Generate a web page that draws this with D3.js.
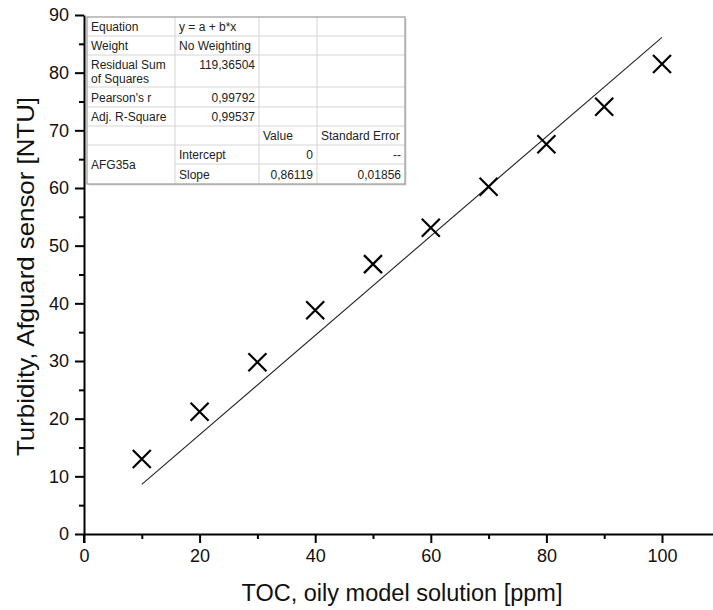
<!DOCTYPE html>
<html>
<head>
<meta charset="utf-8">
<script src="https://cdn.jsdelivr.net/npm/d3@7"></script>
<style>
  body { margin: 0; background: #fff; }
  text { font-family: Arial, "Liberation Sans", sans-serif; }
</style>
</head>
<body>
<div class="vis"></div>
<script>
// data
const toc = [10, 20, 30, 40, 50, 60, 70, 80, 90, 100];
const turbidity = [13.0, 21.2, 29.8, 38.8, 46.8, 53.1, 60.2, 67.6, 74.1, 81.5];
const slope = 0.86119;
const intercept = 0;

const xTicks = [0, 20, 40, 60, 80, 100];
const yTicks = [0, 10, 20, 30, 40, 50, 60, 70, 80, 90];

// fit table
const tableRows = [
  ["Equation", "y = a + b*x", "", ""],
  ["Weight", "No Weighting", "", ""],
  ["Residual Sum|of Squares", "119,36504", "", ""],
  ["Pearson's r", "0,99792", "", ""],
  ["Adj. R-Square", "0,99537", "", ""],
  ["", "", "Value", "Standard Error"],
  ["AFG35a", "Intercept", "0", "--"],
  ["", "Slope", "0,86119", "0,01856"],
];

const width = 713;
const height = 610;

const svg = d3
  .select(".vis")
  .append("svg")
  .attr("width", width)
  .attr("height", height);

// scales
const xScale = d3.scaleLinear().domain([0, 110]).range([84, 84 + 5.78 * 110]);
const yScale = d3.scaleLinear().domain([0, 90]).range([534, 15]);

// minor ticks first
svg
  .append("g")
  .attr("transform", "translate(0," + yScale(0) + ")")
  .call(d3.axisBottom(xScale).tickValues(d3.range(10, 110, 20)).tickSize(5).tickFormat("").tickSizeOuter(0))
  .call((g) => g.select(".domain").remove())
  .selectAll("line")
  .attr("stroke-width", 2);

svg
  .append("g")
  .attr("transform", "translate(" + xScale(0) + ",0)")
  .call(d3.axisLeft(yScale).tickValues(d3.range(5, 90, 10)).tickSize(5).tickFormat("").tickSizeOuter(0))
  .call((g) => g.select(".domain").remove())
  .selectAll("line")
  .attr("stroke-width", 2);

// x axis
const xAxis = svg
  .append("g")
  .attr("transform", "translate(0," + yScale(0) + ")")
  .call(d3.axisBottom(xScale).tickValues(xTicks).tickSize(9).tickSizeOuter(0).tickPadding(6));
xAxis.select(".domain").attr("stroke-width", 2);
xAxis.selectAll("line").attr("stroke-width", 2);
xAxis.selectAll("text").style("font-size", "18px").attr("fill", "#111");

// y axis
const yAxis = svg
  .append("g")
  .attr("transform", "translate(" + xScale(0) + ",0)")
  .call(d3.axisLeft(yScale).tickValues(yTicks).tickSize(9).tickSizeOuter(0).tickPadding(6));
yAxis.select(".domain").attr("stroke-width", 2);
yAxis.selectAll("line").attr("stroke-width", 2);
yAxis.selectAll("text").style("font-size", "18px").attr("fill", "#111");

// y axis stops a bit below 0 (crossing)
svg
  .append("line")
  .attr("x1", xScale(0))
  .attr("x2", xScale(0))
  .attr("y1", yScale(0))
  .attr("y2", yScale(0) + 9)
  .attr("stroke", "#000")
  .attr("stroke-width", 2);

// axis titles
svg
  .append("text")
  .attr("x", 402)
  .attr("y", 601)
  .attr("text-anchor", "middle")
  .style("font-size", "23.5px")
  .attr("fill", "#111")
  .text("TOC, oily model solution [ppm]");

// y title is a bit stretched along its length in the original
svg
  .append("text")
  .attr("transform", "translate(34," + ((yScale(0) + yScale(90)) / 2 + 2) + ") rotate(-90) scale(1.1,1)")
  .attr("text-anchor", "middle")
  .style("font-size", "23.5px")
  .attr("fill", "#111")
  .text("Turbidity, Afguard sensor [NTU]");

// fitted line
const fitX = d3.extent(toc);
svg
  .append("line")
  .attr("x1", xScale(fitX[0]))
  .attr("y1", yScale(intercept + slope * fitX[0]))
  .attr("x2", xScale(fitX[1]))
  .attr("y2", yScale(intercept + slope * fitX[1]))
  .attr("stroke", "#222")
  .attr("stroke-width", 1.1);

// X markers
const points = toc.map((x, i) => ({ x: x, y: turbidity[i] }));
const s = 9;
svg
  .selectAll(".pt")
  .data(points)
  .enter()
  .append("path")
  .attr("class", "pt")
  .attr("d", (d) => {
    const cx = xScale(d.x);
    const cy = yScale(d.y);
    return `M${cx - s},${cy - s}L${cx + s},${cy + s}M${cx - s},${cy + s}L${cx + s},${cy - s}`;
  })
  .attr("stroke", "#000")
  .attr("stroke-width", 2.2)
  .attr("fill", "none");

// table
const colX = [87, 175, 259, 317, 405];
const rowY = [17, 36, 55, 87, 107, 126, 145, 164, 184];
const align = [
  ["l", "l", "l", "l"],
  ["l", "l", "l", "l"],
  ["l", "r", "l", "l"],
  ["l", "r", "l", "l"],
  ["l", "r", "l", "l"],
  ["l", "l", "l", "l"],
  ["l", "l", "r", "r"],
  ["l", "l", "r", "r"],
];

const table = svg.append("g");

table
  .append("rect")
  .attr("x", colX[0] + 1.5)
  .attr("y", rowY[0] + 1.5)
  .attr("width", colX[4] - colX[0])
  .attr("height", rowY[8] - rowY[0])
  .attr("fill", "#d8d8d8");

table
  .append("rect")
  .attr("x", colX[0])
  .attr("y", rowY[0])
  .attr("width", colX[4] - colX[0])
  .attr("height", rowY[8] - rowY[0])
  .attr("fill", "#fff");

// inner grid
for (let r = 1; r < rowY.length - 1; r++) {
  table
    .append("line")
    .attr("x1", r === 7 ? colX[1] : colX[0])
    .attr("x2", colX[4])
    .attr("y1", rowY[r])
    .attr("y2", rowY[r])
    .attr("stroke", "#d4d4d4");
}
for (let c = 1; c < colX.length - 1; c++) {
  table
    .append("line")
    .attr("x1", colX[c])
    .attr("x2", colX[c])
    .attr("y1", rowY[0])
    .attr("y2", rowY[8])
    .attr("stroke", "#d4d4d4");
}

table
  .append("rect")
  .attr("x", colX[0])
  .attr("y", rowY[0])
  .attr("width", colX[4] - colX[0])
  .attr("height", rowY[8] - rowY[0])
  .attr("fill", "none")
  .attr("stroke", "#9a9a9a")
  .attr("stroke-width", 1.2);

tableRows.forEach((row, r) => {
  row.forEach((cell, c) => {
    if (cell === "") return;
    const lines = cell.split("|");
    let yTop = rowY[r];
    let yBot = rowY[r + 1];
    if (cell === "AFG35a") yBot = rowY[r + 2];
    const isRight = align[r][c] === "r";
    lines.forEach((t, k) => {
      let y = (yTop + yBot) / 2 + 4.5;
      if (r === 2) y = yTop + 14 + k * 14;
      table
        .append("text")
        .attr("x", isRight ? colX[c + 1] - 4 : colX[c] + 4)
        .attr("y", y)
        .attr("text-anchor", isRight ? "end" : "start")
        .style("font-size", "12px")
        .attr("fill", "#222")
        .text(t);
    });
  });
});
</script>
</body>
</html>
